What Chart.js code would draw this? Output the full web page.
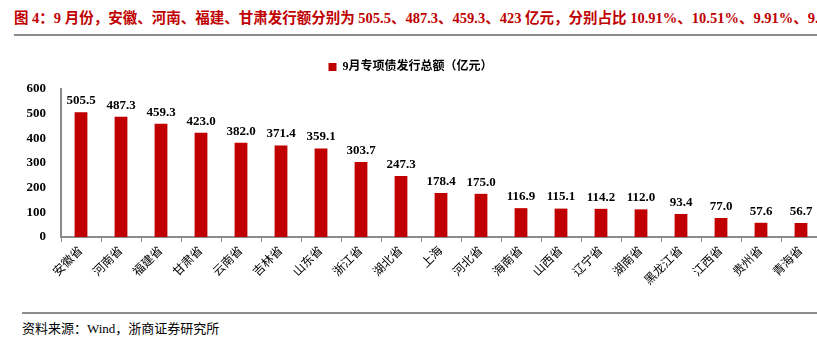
<meta charset="UTF-8">
<html>
<head>
<title>9月专项债发行总额</title>
<script src="https://cdn.jsdelivr.net/npm/chart.js@4/dist/chart.umd.min.js"></script>
<style>
    body { margin: 0; width: 817px; height: 346px; overflow: hidden; background: #fff; position: relative; }
    .fig-title {
        position: absolute; left: 14px; top: 6px; white-space: nowrap;
        font-family: "Liberation Serif", "Noto Sans CJK SC", serif;
        font-weight: bold; font-size: 14.5px; color: #C00000;
    }
    .rule { position: absolute; height: 2px; background: #8c8c8c; }
    .source {
        position: absolute; left: 22px; top: 318px; white-space: nowrap;
        font-family: "Liberation Serif", "Noto Sans CJK SC", serif;
        font-size: 13px; color: #000;
    }
    #chartBox { position: absolute; left: 0; top: 40px; width: 830px; height: 260px; }
</style>
</head>
<body>

<div class="fig-title">图 4：9 月份，安徽、河南、福建、甘肃发行额分别为 505.5、487.3、459.3、423 亿元，分别占比 10.91%、10.51%、9.91%、9.13%</div>
<div class="rule" style="left:14px; top:34px; width:803px;"></div>

<div id="chartBox"><canvas id="chartCanvas"></canvas></div>

<div class="rule" style="left:22px; top:312px; width:795px;"></div>
<div class="source">资料来源：Wind，浙商证券研究所</div>

<script>
    // data
    var provinces = ['安徽省', '河南省', '福建省', '甘肃省', '云南省', '吉林省', '山东省', '浙江省', '湖北省', '上海',
                     '河北省', '海南省', '山西省', '辽宁省', '湖南省', '黑龙江省', '江西省', '贵州省', '青海省'];
    var issueAmount = [505.5, 487.3, 459.3, 423.0, 382.0, 371.4, 359.1, 303.7, 247.3, 178.4,
                       175.0, 116.9, 115.1, 114.2, 112.0, 93.4, 77.0, 57.6, 56.7];
    var seriesName = '9月专项债发行总额（亿元）';
    var yTicks = [0, 100, 200, 300, 400, 500, 600];

    var serifFont = '"Liberation Serif", "Noto Sans CJK SC", serif';

    // values above bars
    var barLabels = {
        id: 'barLabels',
        afterDatasetsDraw: function(chart) {
            var ctx = chart.ctx;
            var meta = chart.getDatasetMeta(0);
            ctx.save();
            ctx.font = 'bold 13px ' + serifFont;
            ctx.fillStyle = '#000';
            ctx.textAlign = 'center';
            ctx.textBaseline = 'bottom';
            meta.data.forEach(function(bar, i) {
                ctx.fillText(issueAmount[i].toFixed(1), bar.x, bar.y - 5);
            });
            ctx.restore();
        }
    };

    // a bit more room under the legend
    var legendGap = {
        id: 'legendGap',
        beforeInit: function(chart) {
            var fit = chart.legend.fit;
            chart.legend.fit = function() {
                fit.bind(chart.legend)();
                this.height += 6;
            };
        }
    };

    var myChart = new Chart(document.getElementById('chartCanvas'), {
        type: 'bar',
        data: {
            labels: provinces,
            datasets: [{
                label: seriesName,
                data: issueAmount,
                backgroundColor: '#C00000',
                borderWidth: 0,
                barPercentage: 0.32,
                categoryPercentage: 1.0
            }]
        },
        options: {
            responsive: true,
            maintainAspectRatio: false,
            animation: false,
            layout: { padding: { top: 11, right: 9, left: 0, bottom: 0 } },
            plugins: {
                legend: {
                    position: 'top',
                    labels: {
                        boxWidth: 8,
                        boxHeight: 8,
                        color: '#000',
                        font: { family: serifFont, size: 12, weight: 'bold' },
                        padding: 10
                    }
                },
                tooltip: { enabled: false }
            },
            scales: {
                x: {
                    afterFit: function(s) { s.height = 63; },
                    grid: {
                        display: true,
                        drawOnChartArea: false,
                        offset: true,
                        tickLength: 5,
                        color: '#8c8c8c'
                    },
                    border: { color: '#8c8c8c', width: 2 },
                    ticks: {
                        color: '#000',
                        minRotation: 45,
                        maxRotation: 45,
                        autoSkip: false,
                        padding: 2,
                        font: { family: serifFont, size: 12 }
                    }
                },
                y: {
                    min: 0,
                    max: 600,
                    afterFit: function(s) { s.width = 61; },
                    afterBuildTicks: function(s) { s.ticks = yTicks.map(function(v) { return { value: v }; }); },
                    grid: { display: false },
                    border: { color: '#8c8c8c', width: 2 },
                    ticks: {
                        color: '#000',
                        padding: 7,
                        font: { family: serifFont, size: 13, weight: 'bold' }
                    }
                }
            }
        },
        plugins: [barLabels, legendGap]
    });
</script>

</body>
</html>
